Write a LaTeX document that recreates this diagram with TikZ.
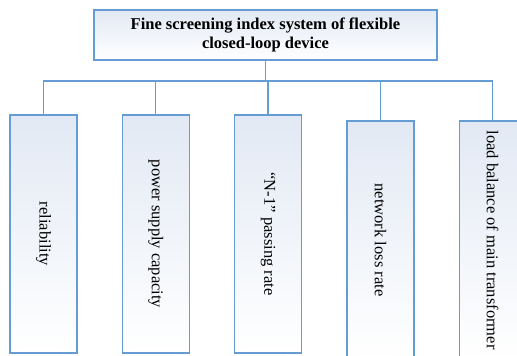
\documentclass[tikz,border=0pt]{standalone}
\usepackage{fontspec}
\setmainfont{Liberation Serif}
\usepackage{tikz}
\usetikzlibrary{positioning}
\definecolor{edgeblue}{RGB}{102,156,212}
\definecolor{paleblue}{RGB}{226,233,244}

\begin{document}
\begin{tikzpicture}[x=1pt,y=1pt,node distance=44pt,
  font=\fontsize{16.5}{19.5}\selectfont,
  box/.style={draw=edgeblue,line width=1.3pt,top color=paleblue,bottom color=white,inner sep=0pt},
  leaf/.style={box,minimum width=67pt,minimum height=238pt},
  link/.style={draw=edgeblue,line width=1.3pt}]
  \clip (0,0) rectangle (517,356);
  \node[box,minimum width=343pt,minimum height=50pt,align=center,font=\fontsize{16.5}{19.5}\selectfont\bfseries] (top) at (265.5,321)
    {Fine screening index system of flexible\\closed-loop device};
  \node[leaf] (rel) at (43.5,122) {\rotatebox{-90}{reliability}};
  \node[leaf,right=of rel] (cap) {\rotatebox{-90}{power supply capacity}};
  \node[leaf,right=of cap] (nmo) {\rotatebox{-90}{``N-1'' passing rate}};
  \node[leaf,right=of nmo,yshift=-6pt] (loss) {\rotatebox{-90}{network loss rate}};
  \node[leaf,right=of loss] (bal) {\rotatebox{-90}{load balance of main transformer}};
  \coordinate (bus) at (265.5,275);
  \path[link] (top.south) -- (bus);
  \foreach \n in {rel,cap,nmo,loss,bal}
    \path[link] (bus) -| (\n.north);
\end{tikzpicture}
\end{document}
